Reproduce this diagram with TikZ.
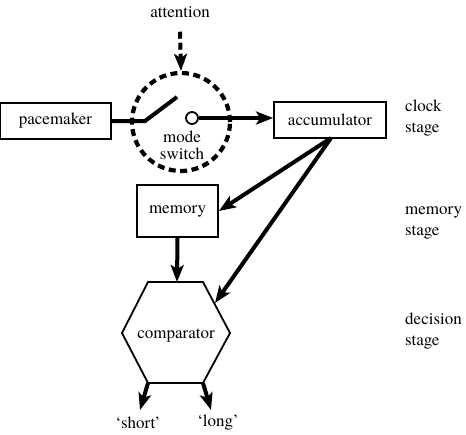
\documentclass[tikz,border=0pt]{standalone}
\usepackage{fontspec}
\setmainfont{TeX Gyre Termes}
\usetikzlibrary{arrows.meta}
\begin{document}
\begin{tikzpicture}[x=1pt,y=-1pt,
  every node/.style={font=\rmfamily\fontsize{17}{20}\selectfont},
  boxnode/.style={draw,line width=1.8pt,inner sep=0pt,minimum height=36pt},
  lbl/.style={align=left,anchor=west,inner sep=0pt,font=\rmfamily\fontsize{17}{21}\selectfont},
  thickarrow/.style={line width=4pt,-{Stealth[length=17pt,width=13pt,inset=4pt]}},
  thickline/.style={line width=4pt}]
\useasboundingbox (0,0) rectangle (466,434);
\node[boxnode,minimum width=111pt] (pace) at (55.5,121) {pacemaker};
\node[boxnode,minimum width=112pt] (acc) at (330,120) {accumulator};
\node[boxnode,minimum width=81pt,minimum height=52pt] (mem) at (177.5,211) {memory};
\node[draw,circle,dash pattern=on 7pt off 4.5pt,line width=4.2pt,minimum size=98pt,inner sep=0pt] (ms) at (181,122) {};
\node[inner sep=0pt] (att) at (180,12) {attention};
\node[align=center,inner sep=0pt,font=\rmfamily\fontsize{17}{17}\selectfont] (mstext) at (182,145) {mode\\switch};
\node[draw,circle,line width=1.8pt,minimum size=12pt,inner sep=0pt] (sw) at (192,118) {};
\coordinate (pivot) at (145,121);
\coordinate (blade) at (177,97);
\draw[thickline] (pace.east) -- (pivot) -- (blade);
\draw[thickarrow] (sw.east) -- (sw.east -| acc.west);
\draw[line width=4pt,dash pattern=on 7pt off 4pt,-{Stealth[length=17pt,width=13pt,inset=4pt]}] (att.south) ++(0,14) coordinate (attstart) -- (ms.north);
% hexagon
\node[inner sep=0pt] (comp) at (176,335) {comparator};
\coordinate (h1) at (148,282);
\coordinate (h2) at (203,282);
\coordinate (h3) at (230,333);
\coordinate (h4) at (203,383);
\coordinate (h5) at (148,383);
\coordinate (h6) at (122,333);
\draw[line width=1.8pt,line join=miter] (h1) -- (h2) -- (h3) -- (h4) -- (h5) -- (h6) -- cycle;
\coordinate (accout) at (331,138);
\coordinate (hexin) at (215,303);
\coordinate (hextop) at (177,282);
\draw[thickarrow] (accout) -- (mem.east);
\draw[thickarrow] (accout) -- (hexin);
\draw[thickarrow] (mem.south) -- (hextop);
\node[inner sep=0pt] (short) at (138,423) {`short'};
\node[inner sep=0pt] (long) at (218,423) {`long'};
\coordinate (shortend) at (140,410);
\coordinate (longend) at (211,410);
\draw[thickarrow] (h5) -- (shortend);
\draw[thickarrow] (h4) -- (longend);
\node[lbl] (clock) at (405,118) {clock\\stage};
\node[lbl] (memst) at (405,223) {memory\\stage};
\node[lbl] (dec) at (405,331) {decision\\stage};
\end{tikzpicture}
\end{document}
